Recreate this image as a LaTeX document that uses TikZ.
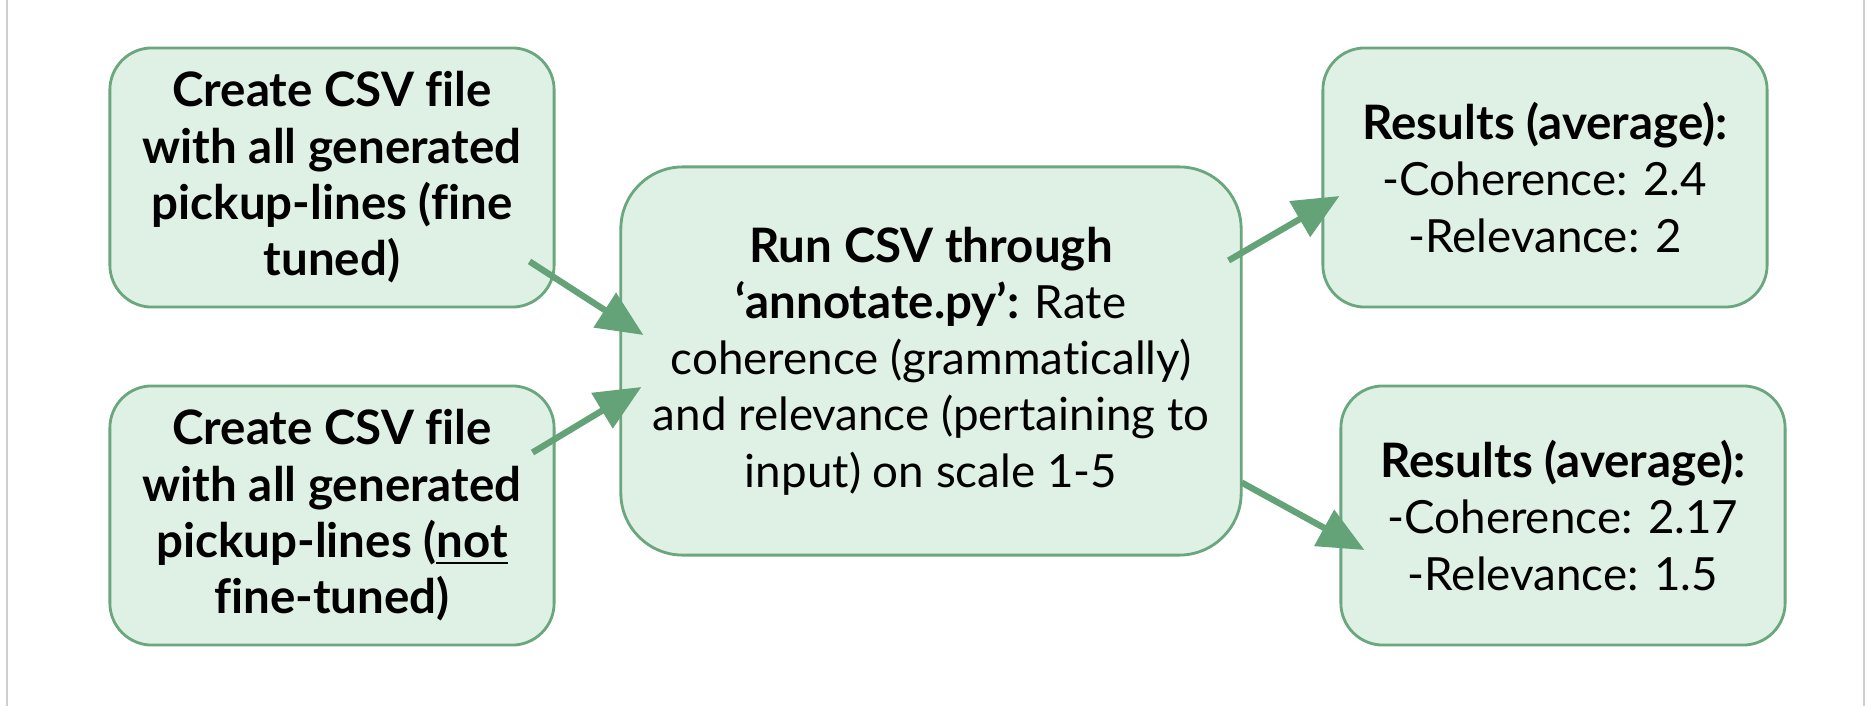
\documentclass[tikz,border=0pt]{standalone}
\usepackage{fontspec}
\setmainfont{Lato}[Ligatures=NoCommon]
\usetikzlibrary{arrows.meta}
\definecolor{boxfill}{HTML}{DFF0E4}
\definecolor{boxline}{HTML}{6AA67E}
\definecolor{arrowgreen}{HTML}{64A277}
\definecolor{framegray}{HTML}{CFCFCF}
\begin{document}
\begin{tikzpicture}[x=0.01cm,y=-0.01cm,
    box/.style={draw=boxline, line width=0.8pt, fill=boxfill, rounded corners=0.42cm,
      align=center, inner sep=0pt, font=\fontsize{13}{16}\selectfont},
    smallbox/.style={box, minimum width=4.44cm, minimum height=2.59cm},
    bold/.style={font=\fontsize{13.5}{16}\selectfont\bfseries},
    arr/.style={draw=arrowgreen, line width=1.8pt, -{Triangle[length=0.46cm,width=0.4cm]}}]
	\useasboundingbox (0,0) rectangle (1868,706);
	\draw [framegray, line width=0.8pt] (7,0) -- (7,706);
	\draw [framegray, line width=0.8pt] (1864,0) -- (1864,706);
	% inputs
	\node [smallbox, bold] (genft) at (332,177.5)
		{Create CSV file\\with all generated\\pickup-lines (fine\\tuned)};
	\node [smallbox, bold] (genbase) at (332,515.5)
		{Create CSV file\\with all generated\\pickup-lines (\underline{not}\\fine-tuned)};
	% annotation step
	\node [box, rounded corners=0.62cm, minimum width=6.2cm, minimum height=3.88cm] (annot) at (931,361)
		{{\fontsize{13.5}{16}\selectfont\bfseries Run CSV through}\\{\fontsize{13.5}{16}\selectfont\bfseries ‘annotate.py’:} Rate\\coherence (grammatically)\\and relevance (pertaining to\\input) on scale 1-5};
	% results
	\node [smallbox] (resft) at (1545,177.5)
		{{\fontsize{13.5}{16}\selectfont\bfseries Results (average):}\\-Coherence: 2.4\\-Relevance: 2};
	\node [smallbox] (resbase) at (1563,515.5)
		{{\fontsize{13.5}{16}\selectfont\bfseries Results (average):}\\-Coherence: 2.17\\-Relevance: 1.5};
	\draw [arr] ([shift={(-26,-47)}]genft.south east) -- ([shift={(24,-26)}]annot.west);
	\draw [arr] ([shift={(-23,-63)}]genbase.east) -- ([shift={(22,26)}]annot.west);
	\draw [arr] ([shift={(-14,95)}]annot.north east) -- ([shift={(18,18.5)}]resft.west);
	\draw [arr] ([shift={(-1,-74)}]annot.south east) -- ([shift={(25,34.5)}]resbase.west);
\end{tikzpicture}
\end{document}
